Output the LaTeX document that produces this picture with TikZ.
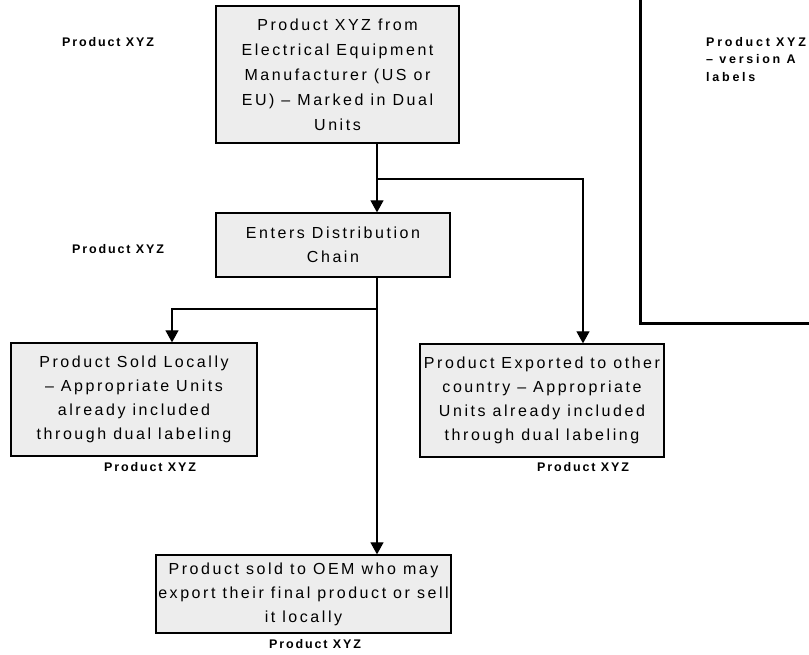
\documentclass[tikz,border=0pt]{standalone}
\usepackage{fontspec}
\usetikzlibrary{arrows.meta}
\newfontfamily\boxfont[LetterSpace=16]{Liberation Sans}
\newfontfamily\labfont[LetterSpace=15]{Liberation Sans}
\newfontfamily\panelfont[LetterSpace=22]{Liberation Sans}
\begin{document}
\begin{tikzpicture}[x=1pt,y=-1pt,
  flowbox/.style={draw=black, line width=1.3pt, fill=gray!14, rectangle, inner sep=0pt,
    align=center, font=\boxfont\fontsize{16}{24}\selectfont},
  tag/.style={font=\labfont\bfseries\fontsize{12.5}{17.5}\selectfont, inner sep=0pt},
  flowarrow/.style={line width=1.1pt, -{Triangle[width=13pt,length=12pt]}},
  flowline/.style={line width=1.1pt}]
\useasboundingbox (0,0) rectangle (809,655);
\clip (0,0) rectangle (809,655);

% right framed panel
\draw[line width=3pt] (640,-5) -- (640,323) -- (815,323);
\node[tag, font=\panelfont\bfseries\fontsize{12.5}{17.5}\selectfont, anchor=north west, align=left] (panel) at (706,37) {Product XYZ\\– version A\\labels};

% boxes
\node[flowbox, minimum width=243pt, minimum height=137pt, font=\boxfont\fontsize{16}{25}\selectfont] (top) at (337.5,74.5)
  {Product XYZ from\\Electrical Equipment\\Manufacturer (US or\\EU) – Marked in Dual\\Units};
\node[flowbox, minimum width=234pt, minimum height=64pt] (dist) at (333,245)
  {Enters Distribution\\Chain};
\node[flowbox, minimum width=246pt, minimum height=113pt] (sold) at (134,399.5)
  {Product Sold Locally\\– Appropriate Units\\already included\\through dual labeling};
\node[flowbox, minimum width=244pt, minimum height=113pt] (exp) at (542,400.5)
  {Product Exported to other\\country – Appropriate\\Units already included\\through dual labeling};
\node[flowbox, minimum width=295pt, minimum height=78pt] (oem) at (303.5,594)
  {Product sold to OEM who may\\export their final product or sell\\it locally};

% labels
\node[tag] (l1) at (108,42) {Product XYZ};
\node[tag] (l2) at (118,249) {Product XYZ};
\node[tag] (l3) at (150,467) {Product XYZ};
\node[tag] (l4) at (583,467) {Product XYZ};
\node[tag] (l5) at (315,644) {Product XYZ};

% connectors
\coordinate (j1) at (377,179);
\coordinate (j2) at (583,179);
\coordinate (j3) at (377,309);
\coordinate (j4) at (172,309);
\draw[flowarrow] (top.south -| j1) -- (dist.north -| j1);
\draw[flowarrow] (j1) -- (j2) -- (exp.north -| j2);
\draw[flowarrow] (dist.south -| j3) -- (oem.north -| j3);
\draw[flowarrow] (j3) -- (j4) -- (sold.north -| j4);
\end{tikzpicture}
\end{document}
